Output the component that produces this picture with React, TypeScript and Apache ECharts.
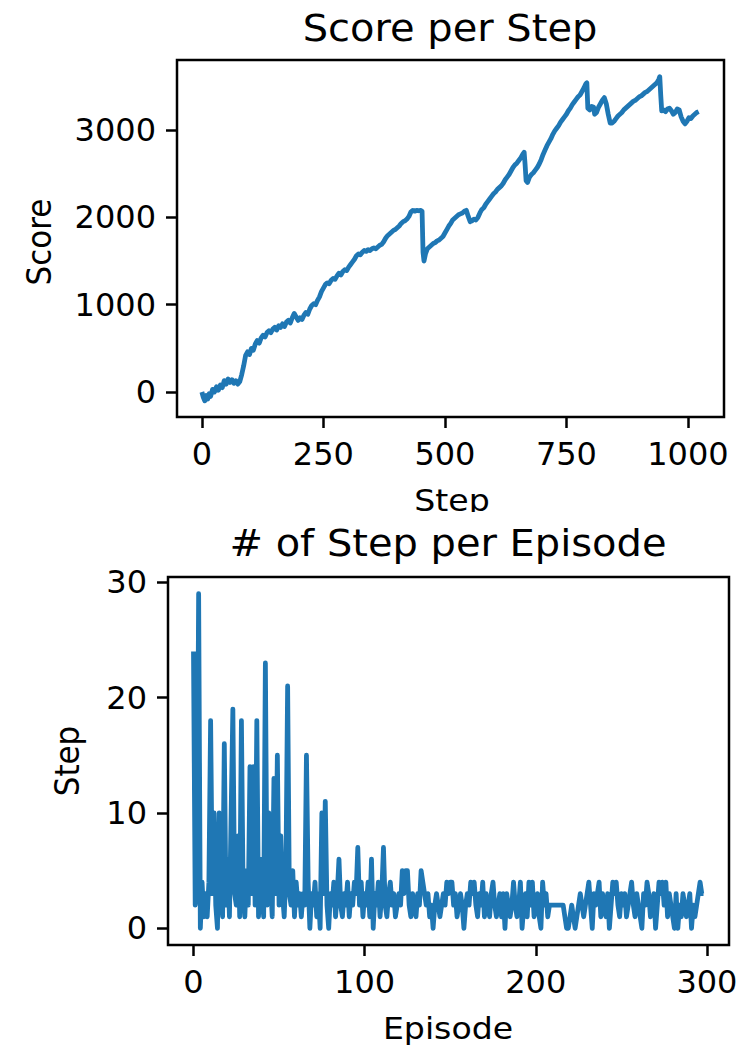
import React, { useEffect, useRef } from "react";
import * as echarts from "echarts";

// ---- Data: Score per Step ----
const scoreSteps = [
  0, 3, 6, 9, 12, 15, 18, 22, 26, 30, 34, 38, 42, 46, 50, 54, 58, 62, 66, 70, 74, 78, 82, 86, 90, 94, 98,
  102, 106, 110, 114, 118, 122, 126, 130, 134, 138, 142, 146, 150, 154, 158, 162, 166, 170, 174, 178, 182,
  186, 190, 194, 198, 202, 206, 210, 214, 218, 222, 226, 230, 234, 238, 242, 246, 250, 254, 258, 262, 266,
  270, 274, 278, 282, 286, 290, 294, 298, 302, 306, 310, 314, 318, 322, 326, 330, 334, 338, 342, 346, 350,
  354, 358, 362, 366, 370, 374, 378, 382, 386, 390, 394, 398, 402, 406, 410, 414, 418, 422, 426, 430, 434,
  438, 442, 446, 450, 453, 455, 457, 460, 464, 468, 472, 476, 480, 484, 488, 492, 496, 500, 504, 508, 512,
  516, 520, 524, 528, 532, 536, 540, 544, 548, 552, 556, 560, 564, 568, 572, 576, 580, 584, 588, 592, 596,
  600, 604, 608, 612, 616, 620, 624, 628, 632, 636, 640, 644, 648, 652, 656, 660, 663, 665, 667, 670, 674,
  678, 682, 686, 690, 694, 698, 702, 706, 710, 714, 718, 722, 726, 730, 734, 738, 742, 746, 750, 754, 758,
  762, 766, 770, 774, 778, 782, 786, 790, 792, 794, 798, 802, 806, 808, 812, 816, 820, 824, 828, 832, 836,
  840, 844, 848, 852, 856, 860, 864, 868, 872, 876, 880, 884, 888, 892, 896, 900, 904, 908, 912, 916, 920,
  924, 928, 932, 936, 940, 942, 944, 946, 950, 954, 958, 962, 966, 970, 974, 978, 982, 986, 990, 994, 998,
  1002, 1006, 1010, 1014, 1018, 1022,
];
const scoreValues = [
  0, -60, -100, -40, -80, -20, -50, 30, 0, 60, 20, 80, 50, 130, 90, 150, 110, 140, 100, 130, 90, 120, 200, 300, 420, 460, 430,
  500, 480, 550, 590, 560, 620, 650, 630, 680, 700, 680, 720, 740, 710, 760, 740, 780, 750, 800, 820, 790,
  850, 900, 860, 820, 850, 830, 880, 910, 890, 950, 990, 1010, 1000, 1050, 1090, 1150, 1190, 1230, 1250, 1240, 1280,
  1300, 1290, 1330, 1360, 1340, 1380, 1400, 1390, 1430, 1460, 1490, 1520, 1560, 1580, 1570, 1600, 1620, 1610, 1630, 1620, 1640,
  1650, 1640, 1660, 1680, 1690, 1720, 1760, 1790, 1810, 1830, 1850, 1860, 1880, 1900, 1930, 1950, 1960, 1980, 2010, 2060, 2080,
  2070, 2080, 2075, 2080, 2070, 1600, 1500, 1580, 1640, 1660, 1680, 1700, 1710, 1730, 1740, 1760, 1780, 1820, 1860, 1900, 1930,
  1970, 1990, 2010, 2030, 2040, 2050, 2070, 2080, 2010, 1950, 1960, 1980, 1970, 2000, 2050, 2090, 2110, 2150, 2180, 2210, 2240,
  2270, 2290, 2320, 2340, 2360, 2390, 2430, 2460, 2490, 2530, 2570, 2600, 2620, 2650, 2680, 2720, 2745, 2600, 2420, 2400, 2460,
  2490, 2510, 2540, 2570, 2610, 2660, 2720, 2770, 2820, 2860, 2900, 2950, 2990, 3020, 3050, 3090, 3120, 3150, 3180, 3220, 3250,
  3290, 3320, 3350, 3380, 3400, 3440, 3480, 3530, 3540, 3250, 3230, 3270, 3260, 3180, 3200, 3260, 3300, 3340, 3370, 3300, 3180,
  3080, 3080, 3100, 3130, 3160, 3180, 3200, 3230, 3250, 3270, 3290, 3310, 3330, 3340, 3360, 3380, 3390, 3410, 3430, 3440, 3460,
  3480, 3500, 3520, 3540, 3580, 3610, 3400, 3220, 3230, 3210, 3240, 3250, 3220, 3180, 3200, 3240, 3230, 3150, 3100, 3070, 3100,
  3140, 3130, 3160, 3180, 3200, 3210,
];

// ---- Data: # of Step per Episode (episodes 0..298) ----
const stepsPerEpisode = [
  24, 2, 3, 29, 0, 4, 1, 3, 1, 4, 18, 3, 10, 2, 0, 10, 4, 1, 16, 2,
  6, 1, 10, 19, 3, 2, 8, 1, 18, 3, 1, 5, 2, 14, 3, 14, 2, 18, 1, 6,
  3, 1, 23, 2, 10, 4, 1, 13, 3, 15, 2, 8, 3, 1, 5, 21, 3, 2, 5, 1,
  4, 2, 3, 1, 3, 2, 15, 4, 0, 3, 2, 4, 1, 3, 0, 10, 3, 11, 2, 0,
  3, 2, 4, 1, 3, 6, 2, 1, 3, 2, 4, 1, 3, 2, 4, 3, 7, 2, 4, 1,
  3, 2, 4, 1, 6, 0, 3, 2, 4, 1, 3, 7, 2, 1, 3, 4, 2, 3, 1, 2,
  3, 2, 5, 3, 5, 5, 2, 1, 3, 2, 1, 3, 2, 5, 4, 3, 2, 3, 1, 2,
  0, 2, 3, 2, 1, 2, 3, 2, 4, 3, 4, 4, 2, 3, 1, 2, 3, 2, 0, 2,
  3, 2, 4, 3, 4, 2, 1, 3, 2, 4, 1, 3, 2, 1, 3, 4, 2, 1, 2, 3,
  1, 3, 0, 3, 2, 1, 2, 4, 2, 1, 2, 4, 0, 2, 3, 1, 4, 2, 4, 1,
  2, 3, 1, 0, 4, 2, 3, 1, 2, 2, 2, 2, 2, 2, 2, 2, 2, 1, 0, 0,
  1, 2, 1, 0, 1, 2, 3, 2, 1, 2, 3, 4, 2, 0, 3, 2, 3, 4, 1, 3,
  2, 1, 3, 0, 2, 4, 3, 4, 2, 1, 3, 2, 3, 1, 2, 3, 4, 2, 1, 3,
  2, 1, 0, 3, 2, 4, 3, 1, 2, 3, 0, 2, 4, 3, 4, 2, 4, 1, 3, 2,
  1, 0, 3, 0, 2, 1, 3, 2, 1, 2, 3, 0, 2, 1, 2, 3, 4, 3, 3,
];

const scoreXTicks = [0, 250, 500, 750, 1000];
const scoreYTicks = [0, 1000, 2000, 3000];
const episodeXTicks = [0, 100, 200, 300];
const episodeYTicks = [0, 10, 20, 30];

const FONT = "DejaVu Sans";
const BLUE = "#1f77b4";

function axisCommon(ticks: number[], min: number, max: number, gridIndex: number) {
  return {
    type: "value",
    gridIndex,
    min,
    max,
    splitLine: { show: false },
    axisLine: { show: false, onZero: false },
    axisTick: {
      show: true,
      inside: false,
      length: 11,
      lineStyle: { color: "#000", width: 2.5 },
      customValues: ticks,
    },
    axisLabel: {
      customValues: ticks,
      margin: 21,
      fontSize: 32,
      color: "#000",
      fontFamily: FONT,
      showMinLabel: true,
      showMaxLabel: true,
      formatter: (v: number) => String(v),
    },
  };
}

export default function App() {
  const ref = useRef<HTMLDivElement>(null);
  useEffect(() => {
    if (!ref.current) return;
    const chart = echarts.init(ref.current, undefined, { renderer: "svg" });
    const scoreData = scoreSteps.map((s, i) => [s, scoreValues[i]]);
    const episodeData = stepsPerEpisode.map((v, i) => [i, v]);
    const gridBase = {
      show: true,
      borderColor: "#000",
      borderWidth: 2.5,
      backgroundColor: "transparent",
      containLabel: false,
      outerBoundsMode: "none",
    };
    const titleText = (t: string, x: number, y: number) => ({
      type: "text",
      x,
      y,
      scaleX: 1.08,
      style: {
        text: t,
        font: `37px '${FONT}'`,
        fill: "#000",
        textAlign: "center",
        textVerticalAlign: "middle",
      },
    });
    const labelText = (t: string, x: number, y: number, rot = 0) => ({
      type: "text",
      x,
      y,
      rotation: rot,
      scaleX: rot ? 1 : 1.07,
      scaleY: rot ? 1.07 : 1,
      style: {
        text: t,
        font: `31px '${FONT}'`,
        fill: "#000",
        textAlign: "center",
        textVerticalAlign: "middle",
      },
    });
    chart.setOption({
      animation: false,
      backgroundColor: "#fff",
      grid: [
        { ...gridBase, left: 177, top: 60, width: 547, height: 357 },
        { ...gridBase, left: 168, top: 577, width: 561, height: 368 },
      ],
      xAxis: [
        { ...axisCommon(scoreXTicks, -51.15, 1074.15, 0), position: "bottom" },
        { ...axisCommon(episodeXTicks, -14.9, 312.9, 1), position: "bottom" },
      ],
      yAxis: [
        { ...axisCommon(scoreYTicks, -286, 3801, 0), position: "left" },
        { ...axisCommon(episodeYTicks, -1.45, 30.45, 1), position: "left" },
      ],
      series: [
        {
          type: "line",
          xAxisIndex: 0,
          yAxisIndex: 0,
          data: scoreData,
          showSymbol: false,
          symbol: "none",
          lineStyle: { color: BLUE, width: 4.8, join: "round", cap: "butt" },
        },
        {
          type: "line",
          xAxisIndex: 1,
          yAxisIndex: 1,
          data: episodeData,
          showSymbol: false,
          symbol: "none",
          lineStyle: { color: BLUE, width: 4.8, join: "round", cap: "butt" },
        },
      ],
      graphic: [
        titleText("Score per Step", 450, 28),
        titleText("# of Step per Episode", 448, 543),
        labelText("Step", 452, 500),
        { type: "rect", shape: { x: 380, y: 512, width: 150, height: 9 }, style: { fill: "#fff" }, z: 100 },
        labelText("Episode", 448, 1028),
        labelText("Score", 40, 242, Math.PI / 2),
        labelText("Step", 68, 761, Math.PI / 2),
      ],
    });
    return () => chart.dispose();
  }, []);
  return (
    <div
      ref={ref}
      style={{ position: "fixed", left: 0, top: 0, width: 742, height: 1048 }}
    />
  );
}
